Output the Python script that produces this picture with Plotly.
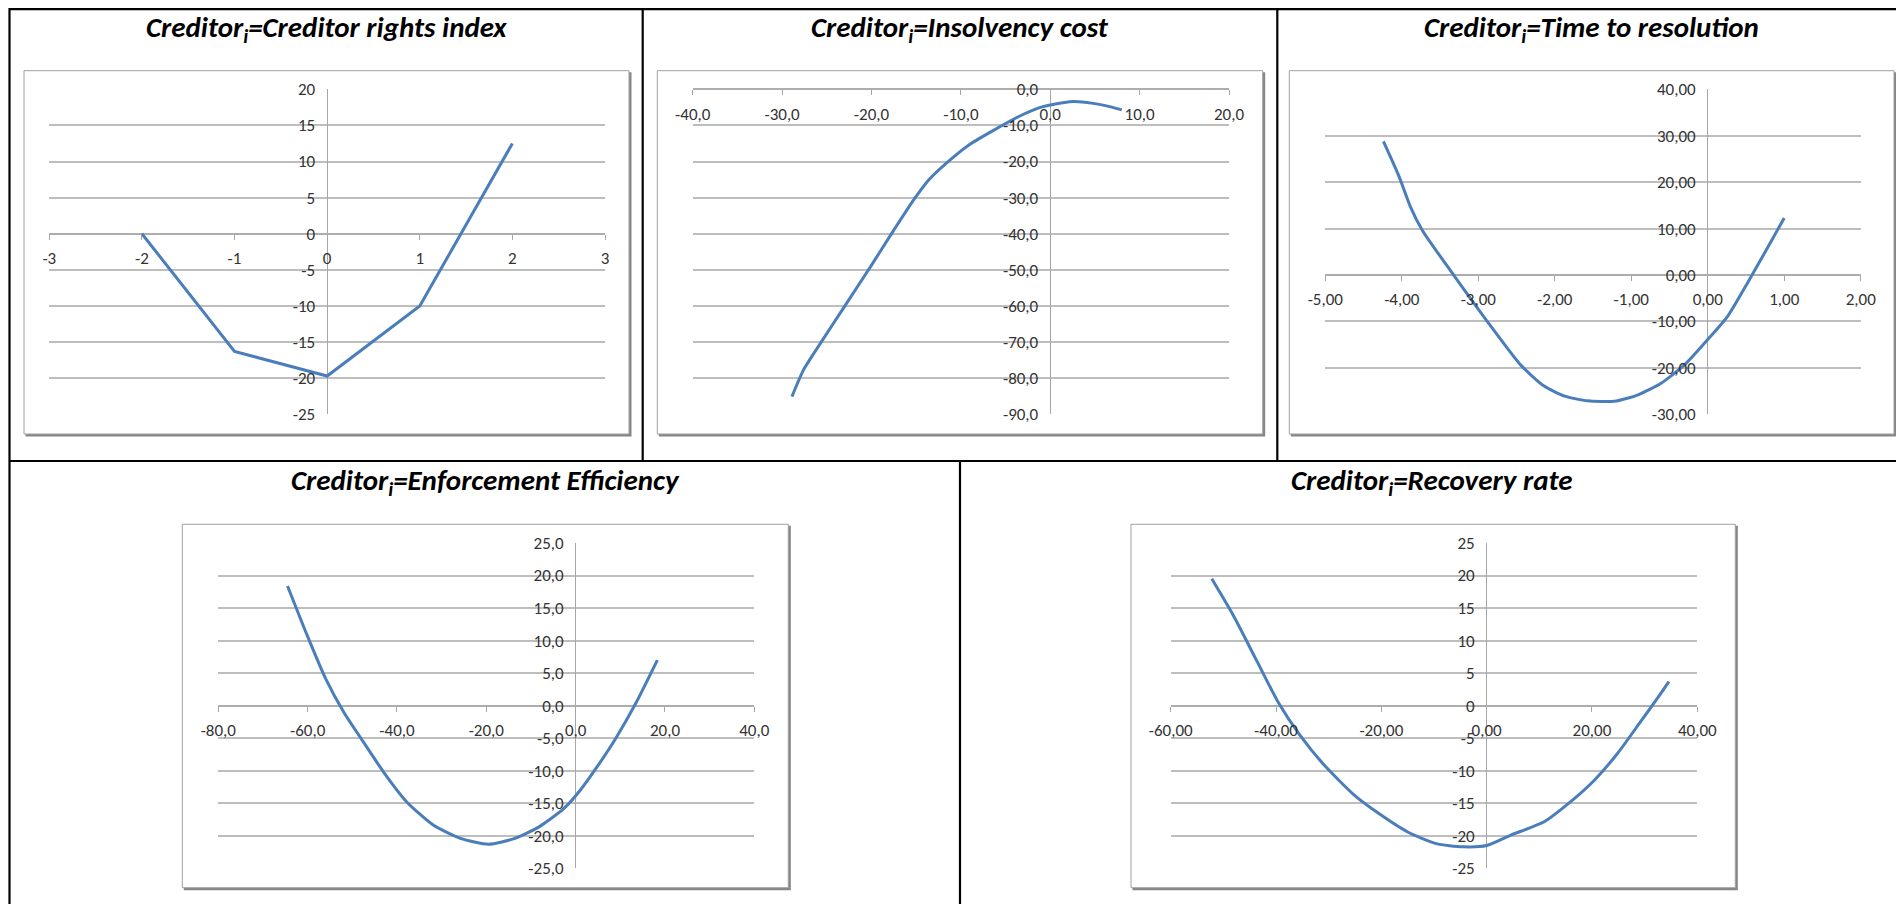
import plotly.graph_objects as go

# The page body has an 8px margin, so the figure is sized to fit inside the
# 1904x912 window and reference pixel positions are shifted by that offset.
OFF = 8
W, H = 1904 - 2 * OFF, 912 - 2 * OFF

# ---------------- data ----------------
# Panel 1: Creditor rights index
cri_x = [-2, -1, 0, 1, 2]
cri_y = [0, -16.3, -19.7, -10.0, 12.5]
cri_xticks = [-3, -2, -1, 0, 1, 2, 3]
cri_xtext = ["-3", "-2", "-1", "0", "1", "2", "3"]
cri_yticks = [20, 15, 10, 5, 0, -5, -10, -15, -20, -25]
cri_ytext = ["20", "15", "10", "5", "0", "-5", "-10", "-15", "-20", "-25"]

# Panel 2: Insolvency cost
ins_x = [-28.9, -27.6, -25.7, -22.9, -20.1, -17.5, -15.3, -13.6, -10.8, -8.9,
         -6.3, -3.4, -1.1, 0.0, 2.6, 4.8, 6.3, 8.0]
ins_y = [-85.1, -77.7, -70.3, -59.7, -49.1, -39.0, -30.7, -25.1, -18.7, -15.1,
         -11.3, -7.4, -5.0, -4.35, -3.4, -3.9, -4.6, -5.7]
ins_xticks = [-40, -30, -20, -10, 0, 10, 20]
ins_xtext = ["-40,0", "-30,0", "-20,0", "-10,0", "0,0", "10,0", "20,0"]
ins_yticks = [0, -10, -20, -30, -40, -50, -60, -70, -80, -90]
ins_ytext = ["0,0", "-10,0", "-20,0", "-30,0", "-40,0", "-50,0", "-60,0", "-70,0", "-80,0", "-90,0"]

# Panel 3: Time to resolution
ttr_x = [-4.24, -4.04, -3.89, -3.73, -3.34, -2.90, -2.45, -2.15, -1.87, -1.57,
         -1.22, -0.91, -0.61, -0.30, 0.0, 0.26, 0.52, 0.78, 1.0]
ttr_y = [28.8, 21.4, 14.8, 9.6, 0.4, -9.6, -19.3, -23.8, -26.1, -27.1,
         -27.2, -25.8, -23.3, -19.3, -13.9, -8.9, -1.7, 5.8, 12.3]
ttr_xticks = [-5, -4, -3, -2, -1, 0, 1, 2]
ttr_xtext = ["-5,00", "-4,00", "-3,00", "-2,00", "-1,00", "0,00", "1,00", "2,00"]
ttr_yticks = [40, 30, 20, 10, 0, -10, -20, -30]
ttr_ytext = ["40,00", "30,00", "20,00", "10,00", "0,00", "-10,00", "-20,00", "-30,00"]

# Panel 4: Enforcement Efficiency
enf_x = [-64.5, -60.1, -56.0, -51.9, -47.5, -43.0, -37.8, -31.8, -25.8, -19.5,
         -13.6, -8.1, -2.6, 0.8, 4.9, 9.0, 13.5, 18.3]
enf_y = [18.4, 10.8, 4.2, -1.0, -5.6, -10.2, -14.8, -18.4, -20.4, -21.3,
         -20.4, -18.6, -15.8, -13.2, -9.3, -5.0, 0.4, 7.0]
enf_xticks = [-80, -60, -40, -20, 0, 20, 40]
enf_xtext = ["-80,0", "-60,0", "-40,0", "-20,0", "0,0", "20,0", "40,0"]
enf_yticks = [25, 20, 15, 10, 5, 0, -5, -10, -15, -20, -25]
enf_ytext = ["25,0", "20,0", "15,0", "10,0", "5,0", "0,0", "-5,0", "-10,0", "-15,0", "-20,0", "-25,0"]

# Panel 5: Recovery rate
rec_x = [-52.2, -48.2, -43.6, -39.5, -35.5, -30.9, -25.2, -20.6, -14.8, -9.6,
         -4.5, 0.0, 4.6, 11.0, 15.9, 20.4, 24.8, 29.2, 32.4, 34.6]
rec_y = [19.5, 14.0, 6.8, 0.4, -4.5, -9.1, -13.7, -16.5, -19.5, -21.2,
         -21.7, -21.5, -19.9, -17.8, -14.8, -11.5, -7.4, -2.5, 1.1, 3.7]
rec_xticks = [-60, -40, -20, 0, 20, 40]
rec_xtext = ["-60,00", "-40,00", "-20,00", "0,00", "20,00", "40,00"]
rec_yticks = [25, 20, 15, 10, 5, 0, -5, -10, -15, -20, -25]
rec_ytext = ["25", "20", "15", "10", "5", "0", "-5", "-10", "-15", "-20", "-25"]

titles = ["Creditor rights index", "Insolvency cost", "Time to resolution",
          "Enforcement Efficiency", "Recovery rate"]

# ---------------- layout geometry (reference pixels) ----------------
# title_xy: (x centre, y) ; title_anchor: vertical anchor of the title box
panels = [
    dict(x=cri_x, y=cri_y, xt=cri_xticks, xl=cri_xtext, yt=cri_yticks, yl=cri_ytext,
         plot=(49.3, 89.3, 605.0, 414.3), frame=(24, 70.7, 629, 434),
         title_xy=(326, 8), title_anchor="top", spline=False),
    dict(x=ins_x, y=ins_y, xt=ins_xticks, xl=ins_xtext, yt=ins_yticks, yl=ins_ytext,
         plot=(692.7, 89.3, 1229.0, 414.3), frame=(657.3, 70.7, 1262.7, 434),
         title_xy=(960, 8), title_anchor="top", spline=True),
    dict(x=ttr_x, y=ttr_y, xt=ttr_xticks, xl=ttr_xtext, yt=ttr_yticks, yl=ttr_ytext,
         plot=(1325.3, 89.3, 1860.7, 414.3), frame=(1289.3, 70.7, 1894, 434),
         title_xy=(1591, 8), title_anchor="top", spline=True),
    dict(x=enf_x, y=enf_y, xt=enf_xticks, xl=enf_xtext, yt=enf_yticks, yl=enf_ytext,
         plot=(218.3, 543.0, 754.3, 868.3), frame=(182.3, 524.3, 788.3, 887.7),
         title_xy=(485, 482), title_anchor="middle", spline=True),
    dict(x=rec_x, y=rec_y, xt=rec_xticks, xl=rec_xtext, yt=rec_yticks, yl=rec_ytext,
         plot=(1170.7, 543.0, 1697.3, 868.3), frame=(1131, 524.3, 1735.3, 887.7),
         title_xy=(1432, 482), title_anchor="middle", spline=True),
]

LINE_COLOR = "#4A7EBB"
GRID_COLOR = "#BEBEBE"
AXIS_COLOR = "#A6A6A6"
TICK_FONT = dict(family="Carlito, Calibri, Lato, sans-serif", size=17, color="#333333")
TITLE_FONT = dict(family="Carlito, Calibri, Lato, sans-serif", size=29, color="#000000")


def fx(px):
    return (px - OFF) / W


def fy(py):
    return 1 - (py - OFF) / H


fig = go.Figure()
shapes = []
annotations = []
layout_axes = {}

for i, p in enumerate(panels, start=1):
    xs = "" if i == 1 else str(i)
    x0, y0, x1, y1 = p["plot"]
    xmin, xmax = min(p["xt"]), max(p["xt"])
    ymin, ymax = min(p["yt"]), max(p["yt"])
    xdom = [fx(x0), fx(x1)]
    ydom = [fy(y1), fy(y0)]
    # positions of the crossing axes (value 0) in paper coordinates
    xaxis_pos = ydom[0] + (0 - ymin) / (ymax - ymin) * (ydom[1] - ydom[0])
    yaxis_pos = xdom[0] + (0 - xmin) / (xmax - xmin) * (xdom[1] - xdom[0])

    fig.add_trace(go.Scatter(
        x=p["x"], y=p["y"], mode="lines",
        line=dict(color=LINE_COLOR, width=3,
                  shape="spline" if p["spline"] else "linear", smoothing=0.6),
        xaxis="x" + xs, yaxis="y" + xs, showlegend=False, hoverinfo="x+y",
    ))

    layout_axes["xaxis" + xs] = dict(
        domain=xdom, range=[xmin, xmax], anchor="free", position=xaxis_pos,
        side="bottom", showgrid=False, showline=False,
        zeroline=True, zerolinecolor=AXIS_COLOR, zerolinewidth=1,
        tickmode="array", tickvals=p["xt"], ticktext=p["xl"],
        ticks="outside", ticklen=5, tickwidth=1, tickcolor=AXIS_COLOR,
        tickfont=TICK_FONT, ticklabelstandoff=4, automargin=False, fixedrange=True,
    )
    layout_axes["yaxis" + xs] = dict(
        domain=ydom, range=[ymin, ymax], anchor="free", position=yaxis_pos,
        side="left", showgrid=True, gridcolor=GRID_COLOR, gridwidth=1.6,
        showline=False, zeroline=True, zerolinecolor="#ADADAD", zerolinewidth=1.6,
        tickmode="array", tickvals=p["yt"], ticktext=p["yl"],
        ticks="", tickfont=TICK_FONT, ticklabelstandoff=12,
        automargin=False, fixedrange=True,
    )

    # chart-area frame with shadow
    fx0, fy0, fx1, fy1 = p["frame"]
    shapes.append(dict(type="rect", xref="paper", yref="paper",
                       x0=fx(fx0 + 1.5), x1=fx(fx1 + 2.5), y0=fy(fy1 + 2.5), y1=fy(fy0 + 1.5),
                       fillcolor="#868686", line=dict(width=0), layer="below"))
    shapes.append(dict(type="rect", xref="paper", yref="paper",
                       x0=fx(fx0), x1=fx(fx1), y0=fy(fy1), y1=fy(fy0),
                       fillcolor="#FFFFFF", line=dict(color="#A0A0A0", width=1), layer="below"))

    tx, ty = p["title_xy"]
    annotations.append(dict(
        text="<b><i>Creditor<sub>i</sub>=" + titles[i - 1] + "</i></b>",
        xref="paper", yref="paper", x=fx(tx), y=fy(ty),
        xanchor="center", yanchor=p["title_anchor"], showarrow=False, font=TITLE_FONT,
        borderpad=0,
    ))

# table borders
BORDER = dict(color="#000000", width=2.2)
table_lines = [
    (9.5, 9.2, 1904, 9.2),      # top
    (9.5, 8, 9.5, 912),         # left
    (9.5, 461, 1904, 461),      # row divider
    (642.7, 8, 642.7, 461),     # column dividers, row 1
    (1277.3, 8, 1277.3, 461),
    (960, 461, 960, 912),       # column divider, row 2
]
for (a, b, c, d) in table_lines:
    shapes.append(dict(type="line", xref="paper", yref="paper",
                       x0=fx(a), y0=fy(b), x1=fx(c), y1=fy(d), line=BORDER, layer="above"))

fig.update_layout(
    template="none",
    width=W, height=H,
    margin=dict(l=0, r=0, t=0, b=0, pad=0),
    paper_bgcolor="#FFFFFF", plot_bgcolor="rgba(0,0,0,0)",
    shapes=shapes, annotations=annotations, showlegend=False,
    **layout_axes,
)

fig.write_html("out.html")
